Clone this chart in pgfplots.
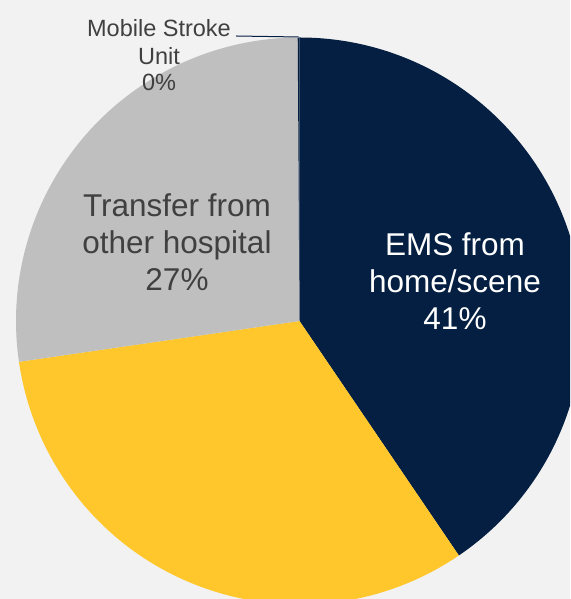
\documentclass[border=0pt]{standalone}
\usepackage{pgfplots}
\pgfplotsset{compat=1.18}
\usepackage{pgfplotstable}
\usepackage{fontspec}
\setmainfont{Liberation Sans}

\definecolor{emsnavy}{HTML}{041F41}
\definecolor{privyellow}{HTML}{FFC72C}
\definecolor{transgray}{HTML}{BFBFBF}
\definecolor{bgc}{HTML}{F2F2F2}
\definecolor{txtgray}{HTML}{404040}

% share of arrivals, percent
\pgfplotstableread{
source   value
EMS      40.5
Private  32.2
Transfer 27.2
MSU      0.1
}\piedata

\begin{document}
\begin{tikzpicture}
\pgfplotstablegetelem{0}{value}\of\piedata\edef\va{\pgfplotsretval}
\pgfplotstablegetelem{1}{value}\of\piedata\edef\vb{\pgfplotsretval}
\pgfplotstablegetelem{2}{value}\of\piedata\edef\vc{\pgfplotsretval}
\pgfplotstablegetelem{3}{value}\of\piedata\edef\vd{\pgfplotsretval}
\pgfmathsetmacro\aA{90-3.6*\va}
\pgfmathsetmacro\aB{\aA-3.6*\vb}
\pgfmathsetmacro\aC{\aB-3.6*\vc}
\pgfmathsetmacro\aD{\aC-3.6*\vd}
\begin{axis}[
    width=570pt, height=599pt,
    scale only axis,
    xmin=0, xmax=570, ymin=0, ymax=599,
    hide axis,
    clip=true,
    axis background/.style={fill=bgc},
]
\def\cx{299.5}\def\cy{278}\def\R{283.5pt}
\fill[emsnavy] (axis cs:\cx,\cy) -- ++(90:\R) arc[start angle=90, end angle=\aA, radius=\R] -- cycle;
\fill[privyellow] (axis cs:\cx,\cy) -- ++(\aA:\R) arc[start angle=\aA, end angle=\aB, radius=\R] -- cycle;
\fill[transgray] (axis cs:\cx,\cy) -- ++(\aB:\R) arc[start angle=\aB, end angle=\aC, radius=\R] -- cycle;
\fill[emsnavy] (axis cs:\cx,\cy) -- ++(\aC:\R) arc[start angle=\aC, end angle=\aD, radius=\R] -- cycle;

\begin{scope}[font=\fontsize{31.5}{37}\selectfont, white]
\node[anchor=base] at (axis cs:455,343) {EMS from};
\node[anchor=base] at (axis cs:455,306) {home/scene};
\node[anchor=base] at (axis cs:455,269) {41\%};
\end{scope}
\begin{scope}[font=\fontsize{31.5}{37}\selectfont, text=txtgray]
\node[anchor=base] at (axis cs:177,382.3) {Transfer from};
\node[anchor=base] at (axis cs:177,345) {other hospital};
\node[anchor=base] at (axis cs:177,308) {27\%};
\end{scope}
\begin{scope}[font=\fontsize{23.5}{27}\selectfont, text=txtgray]
\node[anchor=base] at (axis cs:159,562) {Mobile Stroke};
\node[anchor=base] at (axis cs:159,534) {Unit};
\node[anchor=base] at (axis cs:159,508) {0\%};
\end{scope}
\draw[emsnavy, line width=1pt] (axis cs:236,563) -- (axis cs:298.5,562);
\end{axis}
\end{tikzpicture}
\end{document}
